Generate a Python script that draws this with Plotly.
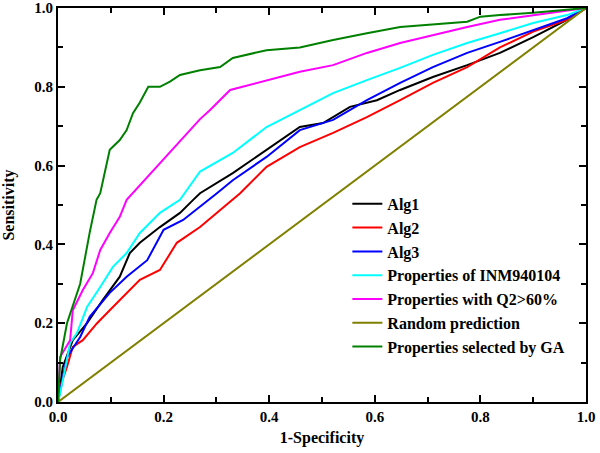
import plotly.graph_objects as go

ga_x = [0, 0.004, 0.017, 0.042, 0.06, 0.073, 0.08, 0.098, 0.117, 0.13, 0.142, 0.155, 0.171, 0.193, 0.212, 0.231, 0.269, 0.307, 0.331, 0.395, 0.458, 0.521, 0.585, 0.648, 0.775, 0.80, 0.837, 0.90, 1.0]
ga_y = [0, 0.107, 0.2, 0.30, 0.43, 0.513, 0.53, 0.64, 0.665, 0.69, 0.733, 0.76, 0.80, 0.80, 0.813, 0.83, 0.842, 0.85, 0.873, 0.893, 0.90, 0.919, 0.936, 0.952, 0.965, 0.978, 0.982, 0.988, 1.0]

mag_x = [0, 0.004, 0.023, 0.028, 0.047, 0.066, 0.08, 0.098, 0.117, 0.13, 0.269, 0.288, 0.326, 0.395, 0.458, 0.521, 0.585, 0.648, 0.71, 0.775, 0.837, 0.90, 1.0]
mag_y = [0, 0.114, 0.157, 0.233, 0.284, 0.327, 0.386, 0.429, 0.47, 0.513, 0.718, 0.741, 0.792, 0.817, 0.838, 0.855, 0.886, 0.911, 0.931, 0.952, 0.970, 0.982, 1.0]

cyan_x = [0, 0.004, 0.013, 0.023, 0.036, 0.055, 0.08, 0.104, 0.13, 0.155, 0.193, 0.231, 0.269, 0.331, 0.395, 0.458, 0.521, 0.585, 0.648, 0.71, 0.775, 0.837, 0.90, 0.964, 1.0]
cyan_y = [0, 0.022, 0.081, 0.15, 0.175, 0.241, 0.292, 0.343, 0.378, 0.429, 0.48, 0.513, 0.585, 0.632, 0.698, 0.741, 0.784, 0.817, 0.848, 0.881, 0.911, 0.936, 0.962, 0.982, 1.0]

alg1_x = [0, 0.009, 0.028, 0.055, 0.085, 0.117, 0.136, 0.155, 0.193, 0.231, 0.256, 0.269, 0.331, 0.395, 0.458, 0.502, 0.553, 0.604, 0.648, 0.71, 0.775, 0.837, 0.90, 0.964, 1.0]
alg1_y = [0, 0.089, 0.157, 0.2, 0.259, 0.318, 0.378, 0.404, 0.444, 0.48, 0.513, 0.53, 0.581, 0.64, 0.698, 0.708, 0.749, 0.766, 0.792, 0.825, 0.855, 0.886, 0.926, 0.97, 1.0]

alg3_x = [0, 0.017, 0.042, 0.06, 0.098, 0.13, 0.169, 0.2, 0.237, 0.269, 0.301, 0.331, 0.395, 0.458, 0.521, 0.585, 0.648, 0.71, 0.775, 0.837, 0.90, 0.964, 1.0]
alg3_y = [0, 0.114, 0.165, 0.216, 0.277, 0.318, 0.36, 0.437, 0.462, 0.495, 0.53, 0.563, 0.622, 0.69, 0.716, 0.766, 0.81, 0.85, 0.886, 0.914, 0.944, 0.974, 1.0]

alg2_x = [0, 0.004, 0.017, 0.028, 0.047, 0.074, 0.098, 0.123, 0.155, 0.193, 0.225, 0.269, 0.345, 0.395, 0.458, 0.521, 0.585, 0.648, 0.71, 0.775, 0.837, 0.90, 0.964, 1.0]
alg2_y = [0, 0.038, 0.089, 0.14, 0.157, 0.2, 0.233, 0.267, 0.31, 0.335, 0.404, 0.444, 0.53, 0.597, 0.647, 0.683, 0.723, 0.766, 0.81, 0.85, 0.90, 0.94, 0.97, 1.0]

rand_x = [0, 1]
rand_y = [0, 1]

series = [
    ("Alg1", alg1_x, alg1_y, "#000000"),
    ("Alg2", alg2_x, alg2_y, "#FF0000"),
    ("Alg3", alg3_x, alg3_y, "#0000FF"),
    ("Properties of INM940104", cyan_x, cyan_y, "#00FFFF"),
    ("Properties with Q2>60%", mag_x, mag_y, "#FF00FF"),
    ("Random prediction", rand_x, rand_y, "#808000"),
    ("Properties selected by GA", ga_x, ga_y, "#008000"),
]

fig = go.Figure()
for name, xs, ys, col in series:
    fig.add_trace(go.Scatter(x=xs, y=ys, mode="lines", name="<b>" + name + "</b>",
                             line=dict(color=col, width=2)))

font_family = "Liberation Serif"
axis_common = dict(
    range=[0, 1], dtick=0.2, tick0=0, tickformat=".1f", automargin=False,
    showline=True, linecolor="black", linewidth=2, mirror="allticks",
    ticks="inside", ticklen=7, tickwidth=2, tickcolor="black",
    minor=dict(dtick=0.1, ticks="inside", ticklen=5, tickwidth=2, tickcolor="black"),
    showgrid=False, zeroline=False,
    tickfont=dict(family=font_family, size=15, color="black", weight="bold"),
)
fig.update_xaxes(**axis_common, title=dict(text="<b>1-Specificity</b>", standoff=8,
                 font=dict(family=font_family, size=16, color="black")))
fig.update_yaxes(**axis_common, title=dict(text="<b>Sensitivity</b>", standoff=17,
                 font=dict(family=font_family, size=16, color="black")))

fig.update_layout(
    width=600, height=453,
    margin=dict(l=58, r=14, t=8, b=51),
    plot_bgcolor="white", paper_bgcolor="white",
    font=dict(family=font_family),
    legend=dict(x=0.548, y=0.546, xanchor="left", yanchor="top",
                bgcolor="rgba(0,0,0,0)", tracegroupgap=0,
                font=dict(family=font_family, size=16, color="black")),
)
fig.write_html("out.html", config={"displayModeBar": False},
               post_script="document.body.style.margin='0px';")
